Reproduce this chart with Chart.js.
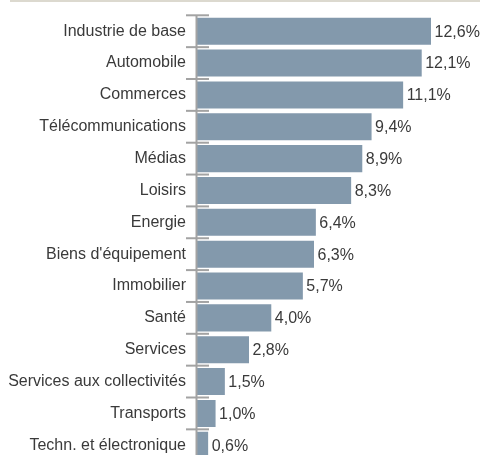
<!DOCTYPE html>
<html><head><meta charset="utf-8">
<script src="https://cdn.jsdelivr.net/npm/chart.js@4/dist/chart.umd.min.js"></script>
<style>html,body{margin:0;padding:0;background:#fff;overflow:hidden;width:480px;height:455px}#wrap{width:480px;height:455px;position:relative;overflow:hidden}canvas{display:block}</style>
</head><body><div id="wrap"><canvas id="c" width="480" height="470"></canvas></div>
<script>
const categories = ["Industrie de base","Automobile","Commerces","Télécommunications","Médias","Loisirs","Energie","Biens d'équipement","Immobilier","Santé","Services","Services aux collectivités","Transports","Techn. et électronique"];
const values = [12.6,12.1,11.1,9.4,8.9,8.3,6.4,6.3,5.7,4.0,2.8,1.5,1.0,0.6];
const valueLabels = ["12,6%","12,1%","11,1%","9,4%","8,9%","8,3%","6,4%","6,3%","5,7%","4,0%","2,8%","1,5%","1,0%","0,6%"];

const FONT = '16px "Liberation Sans", Arial, sans-serif';
const deco = {
  id:'deco',
  beforeDraw(chart){
    const ctx=chart.ctx; ctx.save();
    ctx.fillStyle='#dcd9cf'; ctx.fillRect(10,0,470,2);
    ctx.restore();
  },
  afterDatasetsDraw(chart){
    const ctx=chart.ctx; const ys=chart.scales.y; const area=chart.chartArea;
    ctx.save();
    ctx.strokeStyle='#a3a3a3'; ctx.lineWidth=2;
    ctx.beginPath(); ctx.moveTo(area.left-0.5, ys.getPixelForValue(-0.5)); ctx.lineTo(area.left-0.5, ys.getPixelForValue(categories.length-0.5)); ctx.stroke();
    for(let i=0;i<=categories.length;i++){
      const y=ys.getPixelForValue(i-0.5);
      ctx.beginPath(); ctx.moveTo(area.left-11,y); ctx.lineTo(area.left+12,y); ctx.stroke();
    }
    ctx.fillStyle='#3a3a3a'; ctx.font=FONT; ctx.textBaseline='middle'; ctx.textAlign='left';
    chart.getDatasetMeta(0).data.forEach((b,i)=>{ ctx.fillText(valueLabels[i], b.x+3.5, b.y+1); });
    ctx.restore();
  }
};
new Chart(document.getElementById('c'),{
  type:'bar',
  data:{labels:categories,datasets:[{data:values,backgroundColor:'#8399ac',borderWidth:0,barPercentage:0.85,categoryPercentage:1}]},
  options:{
    indexAxis:'y',responsive:false,animation:false,devicePixelRatio:1,
    layout:{padding:{top:15.3,bottom:8.8,right:23,left:0}},
    plugins:{legend:{display:false},tooltip:{enabled:false}},
    scales:{
      x:{display:false,min:0,max:14},
      y:{offset:true,afterFit(s){s.width=197;s.paddingTop=0;s.paddingBottom=0;},grid:{display:false,drawTicks:false},border:{display:false},
         ticks:{padding:11,color:'#3a3a3a',font:{family:'"Liberation Sans", Arial, sans-serif',size:16}}}
    }
  },
  plugins:[deco]
});
</script></body></html>
